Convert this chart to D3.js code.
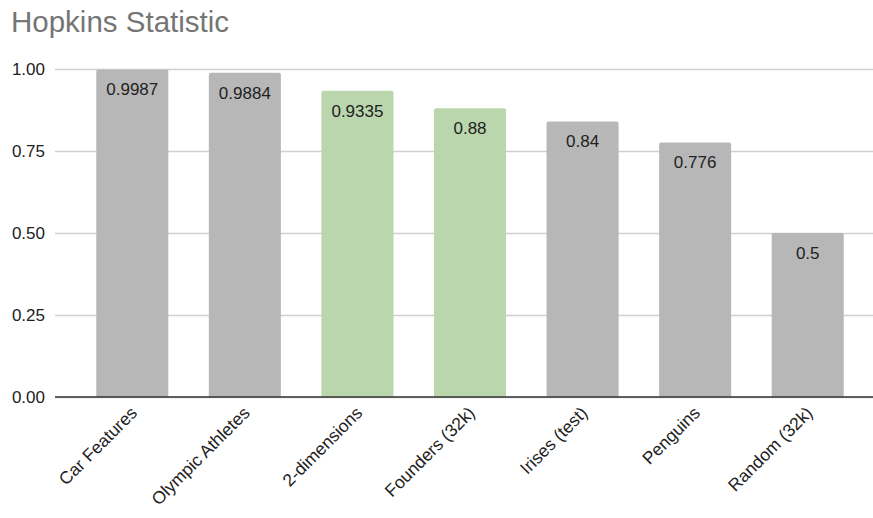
<!DOCTYPE html>
<html>
<head>
<meta charset="utf-8">
<script src="https://cdn.jsdelivr.net/npm/d3@7"></script>
<style>
  body { margin: 0; background: #fff; }
  svg { display: block; font-family: "Liberation Sans", Arial, sans-serif; }
</style>
</head>
<body>
<script>
const categories = ["Car Features", "Olympic Athletes", "2-dimensions", "Founders (32k)", "Irises (test)", "Penguins", "Random (32k)"];
const values = [0.9987, 0.9884, 0.9335, 0.88, 0.84, 0.776, 0.5];
const labels = ["0.9987", "0.9884", "0.9335", "0.88", "0.84", "0.776", "0.5"];
const highlighted = ["2-dimensions", "Founders (32k)"];
const yTicks = [0, 0.25, 0.5, 0.75, 1];

const width = 873, height = 518;

const svg = d3.select("body").append("svg")
  .attr("width", width)
  .attr("height", height);

svg.append("text")
  .attr("x", 11)
  .attr("y", 32)
  .attr("fill", "#757575")
  .attr("font-size", "29.5px")
  .text("Hopkins Statistic");

const y = d3.scaleLinear().domain([0, 1]).range([397, 69]);
const x = d3.scaleBand()
  .domain(categories)
  .range([76, 864])
  .paddingInner(0.36)
  .paddingOuter(0.18);

// gridlines + tick labels
const yAxis = svg.append("g")
  .attr("transform", "translate(55,0)")
  .call(d3.axisLeft(y).tickValues(yTicks).tickFormat(d3.format(".2f")).tickSize(-(width - 55)).tickPadding(10));
yAxis.select(".domain").remove();
yAxis.selectAll(".tick line").attr("stroke", "#d0d0d0").attr("stroke-width", 1.5);
yAxis.selectAll(".tick text").attr("fill", "#222").attr("font-size", "17px").attr("font-family", "Liberation Sans, Arial, sans-serif");

// bars with slightly rounded tops
const r = 2;
svg.append("g")
  .selectAll("path")
  .data(categories)
  .join("path")
  .attr("fill", (d) => highlighted.includes(d) ? "#bad6ad" : "#b7b7b7")
  .attr("d", (d, i) => {
    const x0 = x(d), x1 = x(d) + x.bandwidth(), y0 = y(values[i]), yb = y(0);
    return `M${x0},${yb}V${y0 + r}Q${x0},${y0} ${x0 + r},${y0}H${x1 - r}Q${x1},${y0} ${x1},${y0 + r}V${yb}Z`;
  });

// value labels
svg.append("g")
  .selectAll("text")
  .data(categories)
  .join("text")
  .attr("x", (d) => x(d) + x.bandwidth() / 2)
  .attr("y", (d, i) => y(values[i]) + 26)
  .attr("text-anchor", "middle")
  .attr("fill", "#222")
  .attr("font-size", "17px")
  .text((d, i) => labels[i]);

// baseline
svg.append("line")
  .attr("x1", 55).attr("x2", width)
  .attr("y1", y(0)).attr("y2", y(0))
  .attr("stroke", "#333").attr("stroke-width", 1.5);

// x labels
svg.append("g")
  .selectAll("text")
  .data(categories)
  .join("text")
  .attr("transform", (d) => `translate(${x(d) + x.bandwidth() / 2 + 6},${y(0) + 17}) rotate(-45)`)
  .attr("text-anchor", "end")
  .attr("fill", "#222")
  .attr("font-size", "17.5px")
  .text((d) => d);
</script>
</body>
</html>
